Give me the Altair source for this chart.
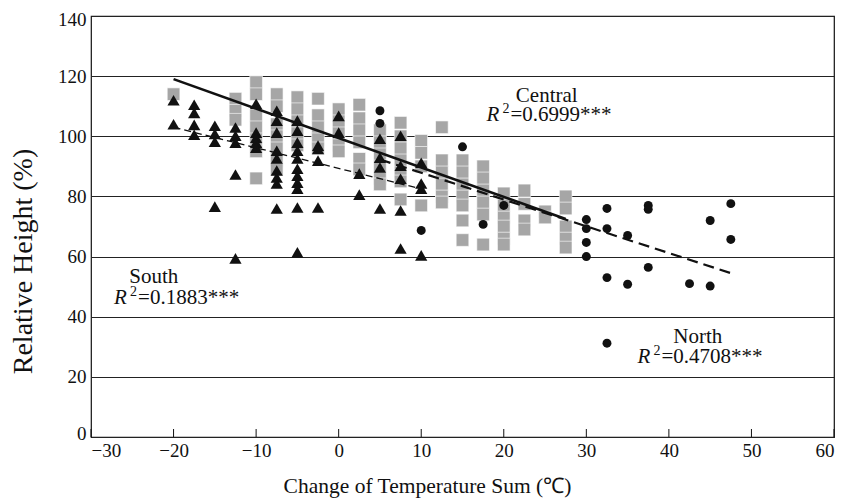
import altair as alt
import pandas as pd

# ---- data ----
central_x = ([-20] + [-12.5]*3 + [-10]*7 + [-7.5]*7 + [-5]*5 + [-2.5]*5 + [0]*5 + [2.5]*6 +
             [5]*6 + [7.5]*7 + [10]*4 + [12.5]*6 + [15]*7 + [17.5]*6 + [20]*6 + [22.5]*4 +
             [25]*2 + [27.5]*5)
central_y = [114,
             112.5, 108.5, 105.5,
             118, 114, 107, 103, 99, 95, 86,
             114, 110, 104, 100, 96, 92, 89,
             113, 109, 105, 101, 97,
             112.5, 107, 103, 99, 96,
             109, 105, 101, 97, 95,
             110.5, 106, 102, 98, 92.5, 89,
             102, 98, 94, 90, 86, 84,
             104.5, 100, 96, 92, 88, 85, 79,
             98.5, 94.5, 90, 77,
             103, 92, 88, 84, 80, 78,
             92, 88, 84, 80, 77, 72, 65.5,
             90, 86, 82, 78, 74, 64,
             81, 77, 73, 70, 66, 64,
             82, 77.5, 72, 69,
             75, 73,
             80, 76, 70, 66, 63]

south_x = ([-20]*2 + [-17.5]*4 + [-15]*4 + [-12.5]*5 + [-10]*5 + [-7.5]*9 + [-5]*11 +
           [-2.5]*4 + [0]*2 + [2.5]*2 + [5]*4 + [7.5]*5 + [10]*4)
south_y = [112, 104,
           110.5, 107.8, 103.8, 100.5,
           103.5, 100.8, 98.2, 76.6,
           102.9, 100.2, 97.9, 87.3, 59.4,
           110.8, 101.2, 99.5, 97.9, 96.2,
           108.5, 105.2, 101.2, 95.2, 92.6, 88.6, 86.3, 84.3, 76,
           105.2, 101.9, 97.9, 95.2, 92.6, 89.2, 86.9, 84.6, 82.6, 76.3, 61.4,
           96.9, 95.8, 91.9, 76.3,
           106.8, 101.2,
           87.6, 80.6,
           99.2, 92.9, 89.6, 76,
           100.2, 90.2, 85.9, 75.3, 62.7,
           91.2, 84.3, 82.6, 60.4]

north_x = ([5]*2 + [10] + [15] + [17.5] + [20] + [30]*4 + [32.5]*4 + [35]*2 + [37.5]*3 +
           [42.5] + [45]*2 + [47.5]*2)
north_y = [108.5, 104.3,
           68.7, 96.5, 70.7, 77,
           72.3, 69.3, 64.7, 60,
           76, 69.3, 53, 31.2,
           67, 50.8,
           77, 75.7, 56.4,
           51,
           50.2, 72,
           77.6, 65.7]

# regression line end points
central_fit_x = [-20, 27.5]
central_fit_y = [119, 72.5]
south_fit_x = [-20, 10]
south_fit_y = [103, 82.5]
north_fit_x = [5, 47.5]
north_fit_y = [92.3, 54.5]

x_ticks = [-30, -20, -10, 0, 10, 20, 30, 40, 50, 60]
y_ticks = [0, 20, 40, 60, 80, 100, 120, 140]

labels_name = ["Central", "South", "North"]
labels_name_x = [25.2, -22.4, 43.5]
labels_name_y = [113.5, 53.1, 33.2]
labels_r2_num = ["=0.6999***", "=0.1883***", "=0.4708***"]
labels_r2_x = [17.9, -27.2, 36.2]
labels_r2_y = [107, 46.1, 26.5]

FONT = "Liberation Serif"
W, H = 743, 421

central = pd.DataFrame({"x": central_x, "y": central_y})
south = pd.DataFrame({"x": south_x, "y": south_y})
north = pd.DataFrame({"x": north_x, "y": north_y})

xs = alt.Scale(domain=[-30, 60], nice=False, zero=False)
ys = alt.Scale(domain=[0, 140], nice=False, zero=False)

X = alt.X("x:Q", scale=xs,
          axis=alt.Axis(values=x_ticks, title="Change of Temperature Sum (℃)", ticks=False,
                        domain=False, grid=False, labelPadding=4,
                        titleX=336, titleY=49, titleAnchor="start", titleAlign="center",
                        titleBaseline="middle",
                        labelFont=FONT, labelFontSize=19, titleFont=FONT, titleFontSize=21.5,
                        titleFontWeight="normal", labelColor="#111", titleColor="#111"))
Y = alt.Y("y:Q", scale=ys,
          axis=alt.Axis(values=y_ticks, title="Relative Height (%)", ticks=False,
                        domain=False, grid=True, gridColor="#222", gridWidth=1,
                        labelPadding=5, labelFlush=True, labelFlushOffset=6,
                        titleX=-68, titleY=245, titleAngle=270, titleAlign="center",
                        titleBaseline="middle", titleAnchor="start",
                        labelFont=FONT, labelFontSize=19, titleFont=FONT, titleFontSize=28,
                        titleFontWeight="normal", labelColor="#111", titleColor="#111"))

squares = alt.Chart(central).mark_square(size=160, color="#a6a6a6", opacity=1,
                                         stroke="white", strokeWidth=0.6).encode(x=X, y=Y)

fit_c = alt.Chart(pd.DataFrame({"x": central_fit_x, "y": central_fit_y})).mark_line(
    color="#111", strokeWidth=2.6).encode(x="x:Q", y="y:Q")
fit_s = alt.Chart(pd.DataFrame({"x": south_fit_x, "y": south_fit_y})).mark_line(
    color="#111", strokeWidth=1.3, strokeDash=[7, 4]).encode(x="x:Q", y="y:Q")
fit_n = alt.Chart(pd.DataFrame({"x": north_fit_x, "y": north_fit_y})).mark_line(
    color="#111", strokeWidth=2.2, strokeDash=[11, 6]).encode(x="x:Q", y="y:Q")

tri = alt.Chart(south).mark_point(shape="triangle-up", size=150, filled=True,
                                  color="#111", opacity=1).encode(x="x:Q", y="y:Q")
circ = alt.Chart(north).mark_circle(size=80, color="#111", opacity=1).encode(x="x:Q", y="y:Q")

ticks = alt.Chart(pd.DataFrame({"x": x_ticks})).mark_rule(color="#111", strokeWidth=1).encode(
    x="x:Q", y=alt.value(H), y2=alt.value(H - 8))

names = alt.Chart(pd.DataFrame({"x": labels_name_x, "y": labels_name_y, "t": labels_name})).mark_text(
    font=FONT, fontSize=21, color="#111", align="center", baseline="middle").encode(
    x="x:Q", y="y:Q", text="t:N")
r_it = alt.Chart(pd.DataFrame({"x": labels_r2_x, "y": labels_r2_y, "t": ["R"]*3})).mark_text(
    font=FONT, fontSize=21, fontStyle="italic", color="#111", align="left", baseline="middle").encode(
    x="x:Q", y="y:Q", text="t:N")
r_sup = alt.Chart(pd.DataFrame({"x": labels_r2_x, "y": labels_r2_y, "t": ["2"]*3})).mark_text(
    font=FONT, fontSize=14, color="#111", align="left", baseline="middle", dx=16, dy=-6).encode(
    x="x:Q", y="y:Q", text="t:N")
r_rest = alt.Chart(pd.DataFrame({"x": labels_r2_x, "y": labels_r2_y, "t": labels_r2_num})).mark_text(
    font=FONT, fontSize=21, color="#111", align="left", baseline="middle", dx=24).encode(
    x="x:Q", y="y:Q", text="t:N")

chart = alt.layer(squares, fit_c, fit_s, fit_n, tri, circ, ticks, names, r_it, r_sup, r_rest).properties(
    width=W, height=H,
    autosize=alt.AutoSizeParams(type="none"),
    padding={"left": 83, "top": 8, "right": 2, "bottom": 62},
    background="white",
).configure_view(stroke="#111", strokeWidth=1.2)

chart.save("out.html", embed_options={"renderer": "svg", "actions": False})
